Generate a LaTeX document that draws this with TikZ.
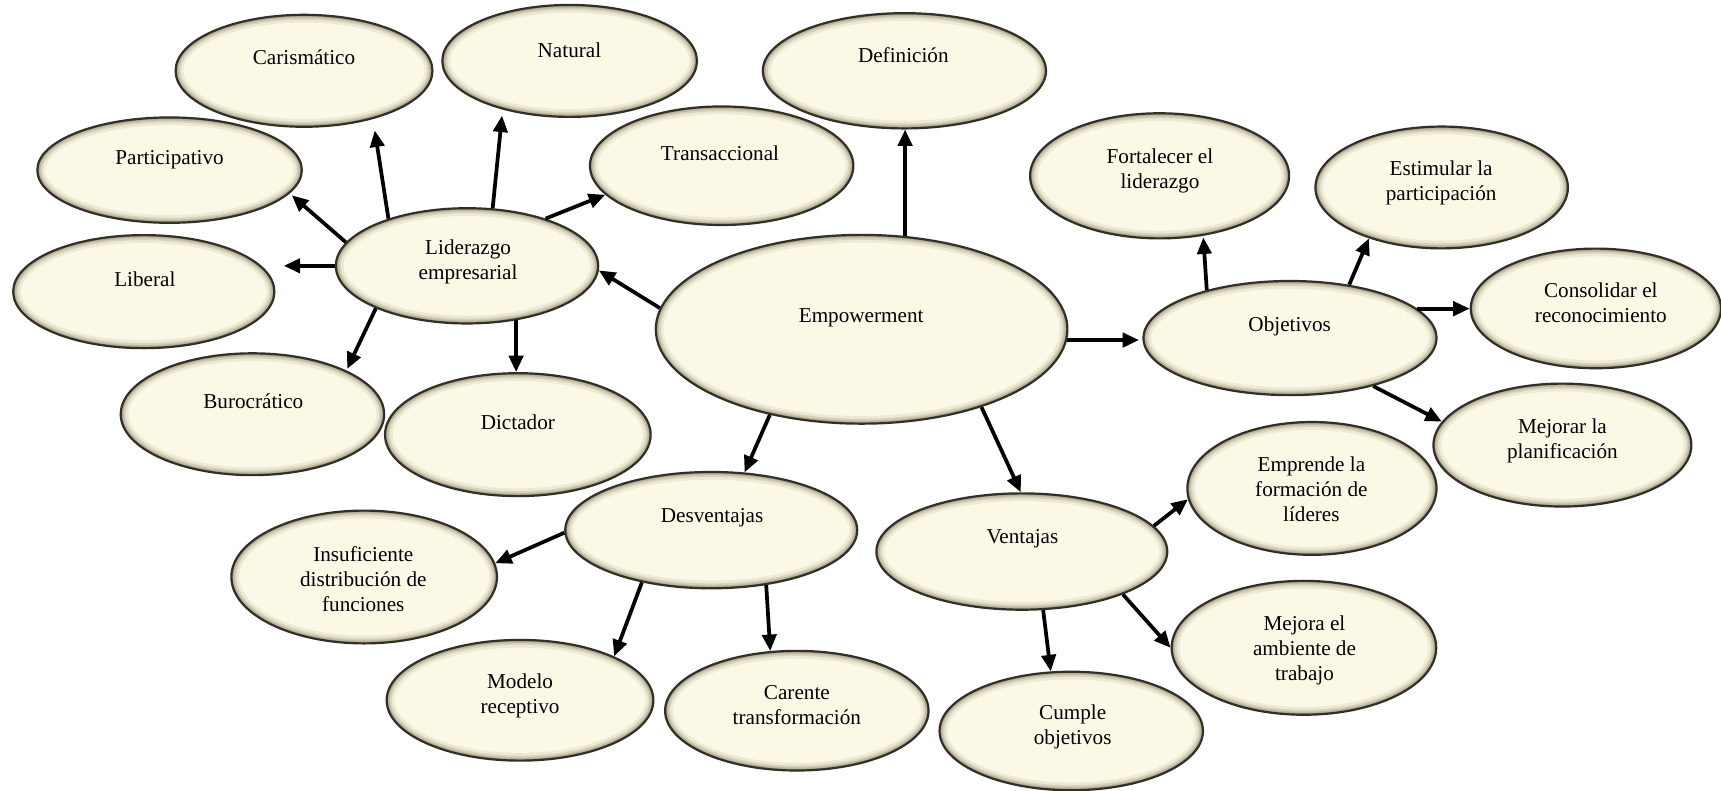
\documentclass[tikz,border=0pt]{standalone}
\usepackage{fontspec}
\setmainfont{Liberation Serif}
\usetikzlibrary{shapes.geometric,arrows.meta,calc}
\definecolor{creamA}{RGB}{251,249,230}
\definecolor{rimC}{RGB}{130,120,92}
\definecolor{edgeC}{RGB}{50,47,40}
\newcommand\mlines[1]{\begin{tabular}[t]{@{}c@{}}#1\end{tabular}}
\newcommand\rimring[2]{\draw[rimC, line width=#1, opacity=#2] let \p1=(path picture bounding box.north east), \p2=(path picture bounding box.center) in (\p2) ellipse [x radius=\x1-\x2, y radius=\y1-\y2];}
\tikzset{
  ell/.style={ellipse, draw=edgeC, line width=2pt, fill=creamA, inner sep=0pt,
    path picture={\rimring{14pt}{.12}\rimring{9pt}{.2}\rimring{5.5pt}{.28}\rimring{2.8pt}{.4}}},
  lbl/.style={anchor=base, inner sep=0pt, font=\fontsize{19.3pt}{22.8pt}\selectfont},
  arr/.style={line width=3.4pt, -{Triangle[length=15pt,width=13pt]}}
}
\begin{document}
\begin{tikzpicture}[x=1pt,y=-1pt]
\fill[white] (0,0) rectangle (1568,720);
\useasboundingbox (0,0) rectangle (1568,720);
% ellipses
\node[ell, minimum width=234pt, minimum height=102pt] (car) at (277,64.5) {};
\node[ell, minimum width=232pt, minimum height=102pt] (nat) at (519,55.5) {};
\node[ell, minimum width=258pt, minimum height=105pt] (def) at (824,64.5) {};
\node[ell, minimum width=241pt, minimum height=96pt] (par) at (154.5,155) {};
\node[ell, minimum width=240pt, minimum height=108pt] (tra) at (657.5,151) {};
\node[ell, minimum width=238pt, minimum height=103pt] (lib) at (131,265.7) {};
\node[ell, minimum width=239pt, minimum height=105pt] (lid) at (425.5,242.2) {};
\node[ell, minimum width=375pt, minimum height=172pt] (emp) at (785,300) {};
\node[ell, minimum width=240pt, minimum height=111pt] (bur) at (230,377.4) {};
\node[ell, minimum width=242pt, minimum height=112pt] (dic) at (471.8,396) {};
\node[ell, minimum width=266pt, minimum height=106pt] (des) at (648,483) {};
\node[ell, minimum width=242pt, minimum height=121pt] (ins) at (331.8,525.7) {};
\node[ell, minimum width=243pt, minimum height=110pt] (mod) at (473.8,638) {};
\node[ell, minimum width=240pt, minimum height=109pt] (cartr) at (726,647.5) {};
\node[ell, minimum width=236pt, minimum height=114pt] (fort) at (1056.5,160.2) {};
\node[ell, minimum width=230pt, minimum height=111pt] (est) at (1313.5,170.8) {};
\node[ell, minimum width=228pt, minimum height=109pt] (cons) at (1454,281) {};
\node[ell, minimum width=267pt, minimum height=104pt] (obj) at (1175.3,308) {};
\node[ell, minimum width=235pt, minimum height=112pt] (mejp) at (1423.5,405.5) {};
\node[ell, minimum width=265pt, minimum height=106pt] (ven) at (931,502.5) {};
\node[ell, minimum width=227pt, minimum height=121pt] (empr) at (1195.3,445) {};
\node[ell, minimum width=241pt, minimum height=122pt] (mejo) at (1188,590.2) {};
\node[ell, minimum width=240pt, minimum height=108pt] (cum) at (976,666) {};
% arrows
\draw[arr] (emp.65) -- (emp.65 |- def.south);
\draw[arr] (emp.174) -- (lid.-2);
\draw[arr, shorten >=3pt] (emp.-3) -- (emp.-3 -| obj.west);
\draw[arr, shorten >=7.5pt] (lid.180) -- (lid.180 -| lib.east);
\draw[arr, shorten >=2.5pt] (lid.169) -- (par.-11);
\draw[arr, shorten >=10.5pt] (lid.149) -- (car.-35);
\draw[arr, shorten >=5.5pt] (lid.66) -- (nat.-144);
\draw[arr] (lid.31) -- (tra.-166);
\draw[arr, shorten >=1.5pt] (lid.-155) -- (bur.25);
\draw[arr] (lid.-48) -- (lid.-48 |- dic.north);
\draw[arr] (emp.-137) -- (des.60);
\draw[arr] (emp.-33) -- (ven.91);
\draw[arr, shorten >=1.5pt] (obj.150) -- (fort.-54);
\draw[arr] (obj.42) -- (est.-145);
\draw[arr] (obj.13) -- (obj.13 -| cons.west);
\draw[arr] (obj.-30) -- (mejp.169);
\draw[arr] (des.181) -- (ins.6);
\draw[arr] (des.-143) -- (mod.25);
\draw[arr] (des.-45) -- (cartr.114);
\draw[arr] (ven.11) -- (empr.185);
\draw[arr] (ven.-23) -- (mejo.180);
\draw[arr] (ven.-70) -- (cum.109);
% texts
\node[lbl] (tcar) at (277,59.2) {Carismático};
\node[lbl] (tnat) at (518.8,52.2) {Natural};
\node[lbl] (tdef) at (823,57.1) {Definición};
\node[lbl] (tpar) at (154.5,150.3) {Participativo};
\node[lbl] (ttra) at (656,146.4) {Transaccional};
\node[lbl] (tlib) at (132,260.6) {Liberal};
\node[lbl] (tlid) at (426.5,232.3) {\mlines{Liderazgo\\empresarial}};
\node[lbl] (temp) at (784.6,293.7) {Empowerment};
\node[lbl] (tbur) at (230.8,372) {Burocrático};
\node[lbl] (tdic) at (471.8,391.7) {Dictador};
\node[lbl] (tdes) at (648.8,476.2) {Desventajas};
\node[lbl] (tins) at (331,511.7) {\mlines{Insuficiente\\distribución de\\funciones}};
\node[lbl] (tmod) at (473.8,627.1) {\mlines{Modelo\\receptivo}};
\node[lbl] (tcartr) at (726,637.1) {\mlines{Carente\\transformación}};
\node[lbl] (tfort) at (1056.8,148.8) {\mlines{Fortalecer el\\liderazgo}};
\node[lbl] (test) at (1313,160) {\mlines{Estimular la\\participación}};
\node[lbl] (tcons) at (1458.5,271.2) {\mlines{Consolidar el\\reconocimiento}};
\node[lbl] (tobj) at (1175,302.2) {Objetivos};
\node[lbl] (tmejp) at (1423.5,394.8) {\mlines{Mejorar la\\planificación}};
\node[lbl] (tven) at (931.5,495) {Ventajas};
\node[lbl] (tempr) at (1194.8,429.7) {\mlines{Emprende la\\formación de\\líderes}};
\node[lbl] (tmejo) at (1188.5,574.6) {\mlines{Mejora el\\ambiente de\\trabajo}};
\node[lbl] (tcum) at (977.3,655.4) {\mlines{Cumple\\objetivos}};
\end{tikzpicture}
\end{document}
